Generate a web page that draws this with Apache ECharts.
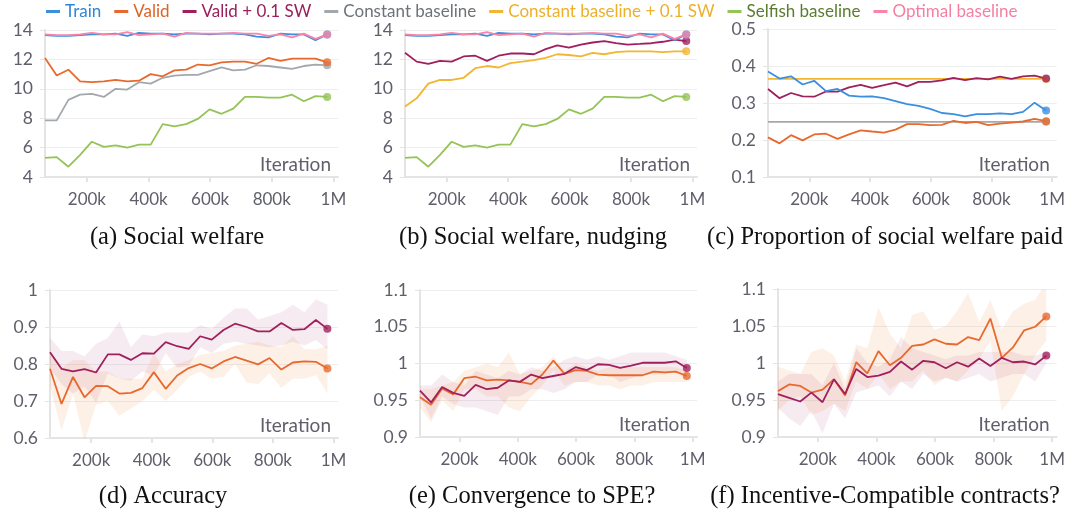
<!DOCTYPE html>
<html>
<head>
<meta charset="utf-8">
<title>welfare curves</title>
<script src="https://cdn.jsdelivr.net/npm/echarts@6/dist/echarts.min.js"></script>
</head>
<body style="margin:0">
<div id="main" style="width:1068px;height:511px"></div>
<script>
// iterations where checkpoints were logged
var iters = [64000, 102000, 140000, 178000, 216000, 255000, 293000, 331000, 369000, 407000, 446000, 484000, 522000,
  560000, 598000, 637000, 675000, 713000, 751000, 789000, 828000, 866000, 904000, 942000, 980000];
var xTicks = [200000, 400000, 600000, 800000, 1000000];
var xTickText = ['200k', '400k', '600k', '800k', '1M'];

// (a) / (b) social welfare
var welfareTrain = [13.65, 13.6, 13.6, 13.65, 13.7, 13.7, 13.75, 13.6, 13.8, 13.75, 13.75, 13.7, 13.75, 13.75, 13.7, 13.75, 13.75, 13.7, 13.55, 13.5, 13.75, 13.7, 13.7, 13.3, 13.7];
var welfareOptimal = [13.7, 13.65, 13.65, 13.7, 13.8, 13.7, 13.7, 13.85, 13.65, 13.7, 13.75, 13.55, 13.8, 13.75, 13.75, 13.75, 13.8, 13.75, 13.75, 13.6, 13.7, 13.5, 13.75, 13.4, 13.7];
var welfareValid = [12.1, 10.9, 11.3, 10.5, 10.45, 10.5, 10.6, 10.5, 10.55, 11.0, 10.85, 11.25, 11.3, 11.65, 11.6, 11.8, 11.85, 11.85, 11.7, 12.1, 11.9, 12.05, 12.05, 12.05, 11.8];
var welfareConst = [7.85, 7.85, 9.25, 9.6, 9.65, 9.45, 10.0, 9.95, 10.45, 10.35, 10.75, 10.9, 10.95, 10.95, 11.2, 11.45, 11.25, 11.3, 11.6, 11.55, 11.45, 11.35, 11.55, 11.65, 11.6];
var welfareSelfish = [5.3, 5.35, 4.7, 5.5, 6.4, 6.05, 6.15, 6.0, 6.2, 6.2, 7.6, 7.45, 7.6, 7.95, 8.6, 8.3, 8.65, 9.45, 9.45, 9.4, 9.4, 9.6, 9.15, 9.5, 9.45];
var nudgeValidSW = [12.45, 11.85, 11.7, 11.9, 11.85, 12.2, 12.25, 11.9, 12.25, 12.4, 12.4, 12.35, 12.7, 12.95, 12.8, 13.0, 13.15, 13.25, 13.1, 13.0, 13.05, 13.1, 13.2, 13.35, 13.25];
var nudgeConstSW = [8.8, 9.35, 10.35, 10.6, 10.6, 10.75, 11.4, 11.55, 11.45, 11.75, 11.85, 11.95, 12.1, 12.35, 12.3, 12.2, 12.45, 12.35, 12.5, 12.55, 12.55, 12.55, 12.5, 12.55, 12.55];

// (c) proportion of welfare paid
var propTrain = [0.385, 0.366, 0.372, 0.35, 0.36, 0.332, 0.338, 0.32, 0.317, 0.318, 0.313, 0.305, 0.297, 0.292, 0.284, 0.273, 0.27, 0.264, 0.27, 0.27, 0.272, 0.27, 0.276, 0.301, 0.28];
var propValidSW = [0.338, 0.313, 0.327, 0.318, 0.317, 0.331, 0.331, 0.342, 0.349, 0.341, 0.348, 0.355, 0.345, 0.357, 0.357, 0.361, 0.368, 0.362, 0.367, 0.364, 0.371, 0.365, 0.372, 0.374, 0.366];
var propValid = [0.207, 0.191, 0.213, 0.199, 0.215, 0.217, 0.203, 0.215, 0.226, 0.223, 0.22, 0.228, 0.243, 0.243, 0.24, 0.241, 0.252, 0.246, 0.249, 0.24, 0.244, 0.247, 0.25, 0.257, 0.251];
var propConst = [0.249, 0.249];
var propConstSW = [0.365, 0.365];

// (d) accuracy
var accSW = [0.832, 0.787, 0.78, 0.786, 0.777, 0.826, 0.826, 0.811, 0.829, 0.828, 0.859, 0.848, 0.841, 0.875, 0.866, 0.892, 0.909, 0.9, 0.888, 0.888, 0.911, 0.892, 0.894, 0.919, 0.895];
var accSWHi = [0.87, 0.835, 0.835, 0.82, 0.855, 0.87, 0.915, 0.845, 0.88, 0.875, 0.885, 0.885, 0.885, 0.905, 0.895, 0.925, 0.95, 0.95, 0.92, 0.93, 0.94, 0.96, 0.94, 0.975, 0.96];
var accSWLo = [0.79, 0.745, 0.72, 0.74, 0.695, 0.775, 0.76, 0.755, 0.78, 0.77, 0.83, 0.79, 0.795, 0.845, 0.83, 0.855, 0.86, 0.855, 0.85, 0.845, 0.85, 0.86, 0.85, 0.865, 0.84];
var accValid = [0.787, 0.692, 0.765, 0.71, 0.741, 0.74, 0.72, 0.722, 0.735, 0.778, 0.733, 0.769, 0.789, 0.8, 0.788, 0.807, 0.819, 0.809, 0.799, 0.816, 0.785, 0.804, 0.807, 0.806, 0.788];
var accValidHi = [0.83, 0.79, 0.81, 0.81, 0.78, 0.78, 0.76, 0.76, 0.76, 0.83, 0.78, 0.8, 0.81, 0.825, 0.83, 0.835, 0.85, 0.855, 0.86, 0.85, 0.845, 0.875, 0.84, 0.84, 0.85];
var accValidLo = [0.74, 0.62, 0.72, 0.59, 0.69, 0.7, 0.66, 0.68, 0.7, 0.73, 0.7, 0.73, 0.765, 0.78, 0.76, 0.765, 0.8, 0.75, 0.745, 0.775, 0.735, 0.76, 0.76, 0.77, 0.72];

// (e) convergence to SPE
var convSW = [0.963, 0.947, 0.968, 0.96, 0.956, 0.971, 0.965, 0.967, 0.977, 0.975, 0.985, 0.98, 0.983, 0.986, 0.995, 0.991, 0.999, 0.998, 0.994, 0.997, 1.001, 1.001, 1.001, 1.003, 0.994];
var convSWHi = [0.97, 0.97, 0.985, 0.975, 0.97, 0.99, 0.985, 0.98, 0.99, 0.985, 0.995, 0.99, 0.995, 1.005, 1.01, 1.005, 1.01, 1.005, 1.01, 1.015, 1.015, 1.015, 1.015, 1.01, 1.005];
var convSWLo = [0.955, 0.925, 0.955, 0.945, 0.94, 0.94, 0.935, 0.93, 0.955, 0.955, 0.965, 0.965, 0.96, 0.965, 0.975, 0.975, 0.985, 0.985, 0.975, 0.98, 0.985, 0.985, 0.985, 0.99, 0.985];
var convValid = [0.954, 0.944, 0.966, 0.958, 0.98, 0.982, 0.977, 0.978, 0.977, 0.975, 0.972, 0.985, 1.004, 0.986, 0.991, 0.99, 0.985, 0.984, 0.984, 0.984, 0.984, 0.989, 0.988, 0.989, 0.983];
var convValidHi = [0.965, 0.965, 0.97, 0.975, 0.99, 0.995, 1.0, 0.995, 1.015, 0.985, 0.99, 0.995, 1.01, 0.99, 1.0, 0.995, 0.99, 0.995, 0.995, 0.995, 0.995, 0.995, 0.995, 0.995, 0.99];
var convValidLo = [0.94, 0.92, 0.95, 0.935, 0.965, 0.965, 0.955, 0.955, 0.94, 0.935, 0.955, 0.97, 0.99, 0.97, 0.975, 0.975, 0.97, 0.97, 0.965, 0.97, 0.97, 0.975, 0.975, 0.975, 0.975];

// (f) incentive-compatible contracts
var icValid = [0.962, 0.971, 0.969, 0.96, 0.964, 0.978, 0.956, 1.001, 0.986, 1.016, 0.997, 1.007, 1.023, 1.025, 1.032, 1.026, 1.025, 1.035, 1.031, 1.06, 1.007, 1.021, 1.044, 1.049, 1.063];
var icValidHi = [0.995, 0.99, 0.985, 1.015, 1.02, 1.01, 0.975, 1.025, 1.02, 1.075, 1.04, 1.02, 1.065, 1.07, 1.045, 1.05, 1.07, 1.095, 1.055, 1.085, 1.045, 1.07, 1.08, 1.085, 1.11];
var icValidLo = [0.935, 0.95, 0.955, 0.93, 0.935, 0.945, 0.935, 0.975, 0.965, 0.985, 0.965, 0.975, 0.975, 0.99, 0.97, 0.98, 0.975, 0.99, 1.005, 1.03, 0.935, 0.955, 0.985, 1.01, 1.03];
var icSW = [0.958, 0.953, 0.948, 0.96, 0.947, 0.978, 0.958, 0.992, 0.981, 0.983, 0.988, 1.002, 0.991, 1.003, 1.001, 0.993, 1.001, 0.995, 1.006, 0.996, 1.007, 1.001, 1.002, 0.998, 1.01];
var icSWHi = [0.975, 0.985, 0.985, 0.985, 0.97, 1.0, 0.965, 1.02, 1.0, 0.995, 1.005, 1.035, 1.02, 1.015, 1.01, 1.005, 1.01, 1.01, 1.015, 1.015, 1.015, 1.015, 1.01, 1.01, 1.015];
var icSWLo = [0.94, 0.925, 0.915, 0.935, 0.905, 0.945, 0.925, 0.96, 0.965, 0.97, 0.955, 0.975, 0.965, 0.985, 0.975, 0.98, 0.975, 0.98, 0.985, 0.975, 0.98, 0.985, 0.985, 0.975, 1.0];

var captions = ['(a) Social welfare', '(b) Social welfare, nudging', '(c) Proportion of social welfare paid',
  '(d) Accuracy', '(e) Convergence to SPE?', '(f) Incentive-Compatible contracts?'];

var C = {
  'Train': '#3a8fe0',
  'Valid': '#e8692d',
  'Valid + 0.1 SW': '#a0205e',
  'Constant baseline': '#a3a8ac',
  'Constant baseline + 0.1 SW': '#f2b632',
  'Selfish baseline': '#94c356',
  'Optimal baseline': '#f984a7'
};
var legendText = {
  'Train': '#2f86d6',
  'Valid': '#e06226',
  'Valid + 0.1 SW': '#9b1f5c',
  'Constant baseline': '#6e7378',
  'Constant baseline + 0.1 SW': '#ecb02b',
  'Selfish baseline': '#5b7c2d',
  'Optimal baseline': '#f57fa2'
};

var font = 'Lato';
var grids = [
  {left: 45, top: 30, width: 293, height: 147},
  {left: 405, top: 30, width: 292, height: 147},
  {left: 768, top: 29, width: 289, height: 148},
  {left: 50, top: 290, width: 288, height: 148},
  {left: 420, top: 290, width: 277, height: 147},
  {left: 778, top: 289, width: 279, height: 148}
];
var yRanges = [[4, 14, 2], [4, 14, 2], [0.1, 0.5, 0.1], [0.6, 1, 0.1], [0.9, 1.1, 0.05], [0.9, 1.1, 0.05]];

function pts(vals) {
  return vals.map(function (v, i) { return [iters[i], v]; });
}

var series = [];

function line(gi, name, vals, xs) {
  var data = xs ? vals.map(function (v, i) { return [xs[i], v]; }) : pts(vals);
  series.push({
    type: 'line', name: name, xAxisIndex: gi, yAxisIndex: gi,
    data: data, symbol: 'none', z: 3,
    lineStyle: {width: 1.8, color: C[name]}, itemStyle: {color: C[name]}
  });
  series.push({
    type: 'scatter', name: name, xAxisIndex: gi, yAxisIndex: gi,
    data: [data[data.length - 1]], symbolSize: 8, z: 4,
    itemStyle: {color: C[name]}
  });
}

// shaded spread: one polygon through the lower and upper bounds
function band(gi, lo, hi, fill) {
  series.push({
    type: 'custom', xAxisIndex: gi, yAxisIndex: gi, silent: true, z: 1, clip: true,
    data: iters.map(function (x, i) { return [x, lo[i], hi[i]]; }),
    encode: {x: 0, y: [1, 2]},
    renderItem: function (params, api) {
      if (params.dataIndex !== 0) return null;
      var poly = [];
      for (var i = 0; i < iters.length; i++) poly.push(api.coord([iters[i], hi[i]]));
      for (var j = iters.length - 1; j >= 0; j--) poly.push(api.coord([iters[j], lo[j]]));
      return {type: 'polygon', shape: {points: poly}, style: {fill: fill}};
    }
  });
}

var maroonFill = 'rgba(160,32,94,0.09)';
var orangeFill = 'rgba(240,130,60,0.12)';

// (a)
line(0, 'Constant baseline', welfareConst);
line(0, 'Selfish baseline', welfareSelfish);
line(0, 'Valid', welfareValid);
line(0, 'Train', welfareTrain);
line(0, 'Optimal baseline', welfareOptimal);
// (b)
line(1, 'Constant baseline + 0.1 SW', nudgeConstSW);
line(1, 'Selfish baseline', welfareSelfish);
line(1, 'Valid + 0.1 SW', nudgeValidSW);
line(1, 'Train', welfareTrain);
line(1, 'Optimal baseline', welfareOptimal);
// (c)
var flatX = [iters[0], iters[iters.length - 1]];
line(2, 'Constant baseline', propConst, flatX);
line(2, 'Constant baseline + 0.1 SW', propConstSW, flatX);
line(2, 'Valid', propValid);
line(2, 'Valid + 0.1 SW', propValidSW);
line(2, 'Train', propTrain);
// (d)
band(3, accSWLo, accSWHi, maroonFill);
band(3, accValidLo, accValidHi, orangeFill);
line(3, 'Valid', accValid);
line(3, 'Valid + 0.1 SW', accSW);
// (e)
band(4, convSWLo, convSWHi, maroonFill);
band(4, convValidLo, convValidHi, orangeFill);
line(4, 'Valid', convValid);
line(4, 'Valid + 0.1 SW', convSW);
// (f)
band(5, icSWLo, icSWHi, maroonFill);
band(5, icValidLo, icValidHi, orangeFill);
line(5, 'Valid', icValid);
line(5, 'Valid + 0.1 SW', icSW);

var axisGrey = '#e4e4e4';
var labelGrey = '#5f5f6b';

var xAxes = grids.map(function (g, i) {
  return {
    type: 'value', gridIndex: i, min: 64000, max: 1015000,
    name: 'Iteration', nameLocation: 'end', nameGap: -7,
    nameTextStyle: {align: 'right', verticalAlign: 'bottom', padding: [0, 0, 3, 0],
      color: labelGrey, fontSize: 19, fontFamily: font},
    axisLine: {lineStyle: {color: axisGrey, width: 2}},
    axisTick: {show: true, customValues: xTicks, length: 5, lineStyle: {color: axisGrey, width: 2}},
    axisLabel: {customValues: xTicks, margin: 14, color: labelGrey, fontSize: 17, fontFamily: font,
      formatter: function (v) { return xTickText[xTicks.indexOf(v)]; }},
    splitLine: {show: false}
  };
});

var yAxes = grids.map(function (g, i) {
  var r = yRanges[i];
  return {
    type: 'value', gridIndex: i, min: r[0], max: r[1], interval: r[2],
    axisLine: {show: true, lineStyle: {color: axisGrey, width: 2}},
    axisTick: {show: true, length: 5, lineStyle: {color: axisGrey}},
    axisLabel: {margin: 12, color: labelGrey, fontSize: 17.5, fontFamily: font},
    splitLine: {lineStyle: {color: '#eeeeee'}}
  };
});

var capPos = [[177, 238], [533, 238], [885, 238], [163, 497], [532, 497], [885, 497]];
var graphics = captions.map(function (t, i) {
  return {
    type: 'text', x: capPos[i][0], y: capPos[i][1],
    style: {text: t, font: '24.5px "Liberation Serif"', fill: '#111', textAlign: 'center', textVerticalAlign: 'middle'}
  };
});

var legendNames = ['Train', 'Valid', 'Valid + 0.1 SW', 'Constant baseline', 'Constant baseline + 0.1 SW',
  'Selfish baseline', 'Optimal baseline'];

var option = {
  animation: false,
  backgroundColor: '#fff',
  legend: {
    top: 3, left: 46, padding: [0, 0], icon: 'rect', itemWidth: 14, itemHeight: 3, itemGap: 13,
    textStyle: {fontSize: 17, fontFamily: font},
    data: legendNames.map(function (n) { return {name: n, textStyle: {color: legendText[n]}}; })
  },
  grid: grids,
  xAxis: xAxes,
  yAxis: yAxes,
  series: series,
  graphic: graphics
};

var myChart = echarts.init(document.getElementById('main'));
myChart.setOption(option);
</script>
</body>
</html>
